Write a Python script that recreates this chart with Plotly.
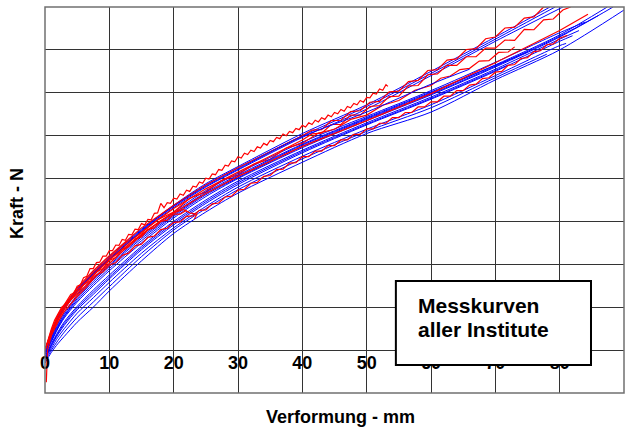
import plotly.graph_objects as go

# ---------------- data (force in grid units, deformation in mm) ----------------
blue_x = [0, 1, 2, 3, 5, 7.5, 10, 15, 20, 25, 30, 40, 50, 60, 70, 80, 90]

b1 = [0.0, 0.42, 0.78, 1.02, 1.42, 1.82, 2.18, 2.82, 3.38, 3.88, 4.28, 5.05, 5.72, 6.5, 7.3]
b1_end = (78.5, 8.0)
b2 = [0.0, 0.36, 0.7, 0.95, 1.35, 1.75, 2.1, 2.76, 3.32, 3.8, 4.2, 4.96, 5.62, 6.4, 7.2]
b2_end = (80.5, 8.0)
b3 = [-0.05, 0.3, 0.62, 0.88, 1.28, 1.68, 2.02, 2.68, 3.22, 3.72, 4.12, 4.85, 5.45, 6.05, 6.71, 7.4]
b3_end = (84.0, 7.65)
b4 = [-0.1, 0.25, 0.55, 0.8, 1.2, 1.6, 1.95, 2.6, 3.15, 3.65, 4.05, 4.78, 5.4, 6.0, 6.65, 7.35]
b4_end = (87.4, 8.0)
b5 = [-0.1, 0.2, 0.5, 0.75, 1.12, 1.5, 1.85, 2.5, 3.08, 3.58, 4.0, 4.72, 5.35, 5.95, 6.6, 7.3]
b5_end = (88.3, 8.0)
b6 = [-0.15, 0.15, 0.42, 0.66, 1.02, 1.4, 1.75, 2.42, 3.0, 3.5, 3.94, 4.66, 5.3, 5.9, 6.55, 7.25]
b6_end = (83.0, 7.45)
b7 = [-0.2, 0.1, 0.36, 0.58, 0.94, 1.3, 1.66, 2.34, 2.92, 3.42, 3.86, 4.6, 5.25, 5.85, 6.5, 7.2]
b7_end = (82.0, 7.33)
b8 = [-0.2, 0.05, 0.3, 0.5, 0.86, 1.22, 1.58, 2.26, 2.85, 3.35, 3.8, 4.52, 5.15, 5.72, 6.4, 7.1]
b8_end = (81.0, 7.15)
b9 = [-0.25, 0.0, 0.22, 0.42, 0.76, 1.12, 1.48, 2.18, 2.8, 3.3, 3.74, 4.46, 5.1, 5.65, 6.35]
b9_end = (78.0, 6.9)
b10 = [-0.3, -0.05, 0.15, 0.32, 0.65, 1.0, 1.38, 2.08, 2.72, 3.22, 3.66, 4.38, 5.05, 5.55, 6.3, 7.0, 7.93]
b10_end = None
b11 = [0.0, 0.38, 0.72, 0.98, 1.38, 1.78, 2.12, 2.78, 3.35, 3.82, 4.22, 4.98, 5.55, 6.2]
b11_end = (66.0, 6.55)
b12 = [-0.05, 0.28, 0.58, 0.84, 1.24, 1.64, 1.98, 2.64, 3.18, 3.68, 4.08, 4.8, 5.42, 6.02]
b12_end = (75.0, 6.95)
b13 = [-0.1, 0.22, 0.52, 0.78, 1.16, 1.55, 1.9, 2.55, 3.12, 3.62, 4.02, 4.75, 5.38, 5.97, 6.62, 7.32]
b13_end = (86.0, 7.8)
b14 = [-0.18, 0.12, 0.39, 0.62, 0.98, 1.35, 1.7, 2.38, 2.96, 3.46, 3.9, 4.63, 5.27, 5.87, 6.52]
b14_end = (72.0, 6.65)
b15 = [0.0, 0.4, 0.75, 1.0, 1.4, 1.8, 2.15, 2.8, 3.36, 3.85, 4.25, 5.0, 5.68, 6.45, 7.25]
b15_end = (79.3, 8.0)

# red measured curves (noisy)
r1_x = [0.0, 0.5, 1, 2, 3,
        4, 4.5, 5, 5.5, 6, 6.5, 7, 7.5, 8, 8.5, 9, 9.5, 10, 10.5, 11, 11.5, 12, 12.5, 13, 13.5,
        14, 14.5, 15, 15.5, 16, 16.5, 17, 17.5, 18, 18.5, 19, 19.5, 20, 20.5, 21, 21.5, 22, 22.5,
        23, 23.5, 24, 24.5, 25, 25.5, 26, 26.5, 27, 27.5, 28, 28.5, 29, 29.5, 30, 30.5, 31, 31.5,
        32, 32.5, 33, 33.5, 34, 34.5, 35, 35.5, 36, 36.5, 37, 37.5, 38, 38.5, 39, 39.5, 40, 40.5,
        41, 41.5, 42, 42.5, 43, 43.5, 44, 44.5, 45, 45.5, 46, 46.5, 47, 47.5, 48, 48.5, 49, 49.5,
        50, 50.5, 51, 51.5, 52, 52.5, 53, 53.3]
r1_y = [0.0, 0.25, 0.45, 0.82, 1.05,
        1.3, 1.33, 1.49, 1.52, 1.69, 1.72, 1.9, 1.9, 2.04, 2.05, 2.19, 2.19, 2.32, 2.32, 2.45, 2.44,
        2.58, 2.56, 2.7, 2.69, 2.82, 2.81, 2.95, 2.92, 3.05, 3.04, 3.19, 3.2, 3.42, 3.32, 3.44, 3.42,
        3.54, 3.52, 3.64, 3.61, 3.73, 3.7, 3.82, 3.8, 3.92, 3.89, 4.01, 3.99, 4.11, 4.09, 4.21, 4.19,
        4.31, 4.29, 4.41, 4.39, 4.51, 4.48, 4.59, 4.56, 4.66, 4.63, 4.74, 4.71, 4.82, 4.78, 4.89,
        4.86, 4.96, 4.93, 5.04, 5.0, 5.1, 5.07, 5.17, 5.14, 5.24, 5.2, 5.3, 5.26, 5.36, 5.32, 5.42,
        5.38, 5.48, 5.44, 5.54, 5.51, 5.61, 5.57, 5.68, 5.65, 5.75, 5.72, 5.82, 5.78, 5.89, 5.88,
        5.99, 5.97, 6.09, 6.06, 6.19, 6.15]

r2_x = [0, 1, 2, 3, 5, 7.5, 10, 15, 20, 25, 30, 35, 40, 41.5, 43, 44.5, 46, 47.5, 49, 50.5, 52,
        53.5, 55, 56.5, 58, 59.5, 61, 62.5, 64, 65.5, 67, 68.5, 70, 71.5, 73, 74.5, 76, 77.5, 78.3]
r2_y = [0.0, 0.45, 0.8, 1.05, 1.45, 1.85, 2.2, 2.85, 3.38, 3.85, 4.25, 4.62, 5.0, 5.13, 5.14, 5.35,
        5.36, 5.56, 5.58, 5.78, 5.8, 6.02, 6.04, 6.26, 6.29, 6.52, 6.54, 6.76, 6.79, 7.01, 7.03, 7.26,
        7.3, 7.51, 7.53, 7.74, 7.77, 8.0, 8.0]

r3_x = [0, 1, 2, 3, 5, 7.5, 10, 15, 20, 25, 30, 35, 40, 41.5, 43, 44.5, 46, 47.5, 49, 50.5, 52,
        53.5, 55, 56.5, 58, 59.5, 61, 62.5, 64, 65.5, 67, 68.5, 70, 71.5, 73, 74.5, 76, 77.5, 79,
        80.5, 81.7]
r3_y = [0.0, 0.38, 0.72, 0.98, 1.38, 1.78, 2.12, 2.76, 3.3, 3.76, 4.15, 4.52, 4.9, 5.04, 5.06, 5.26,
        5.26, 5.48, 5.48, 5.68, 5.7, 5.91, 5.92, 6.16, 6.17, 6.42, 6.44, 6.64, 6.64, 6.84, 6.84, 7.04,
        7.04, 7.23, 7.22, 7.48, 7.47, 7.7, 7.72, 7.93, 8.0]

r4_x = [0, 1, 2, 3, 5, 7.5, 10, 12.5, 15, 17.5, 20, 22.5, 25, 27.5, 30, 32.5, 35, 37.5, 40, 42.5,
        45, 47.5, 50, 52.5, 55, 57.5, 60, 61.5, 63, 64.5, 66, 67.5, 69, 70.5, 72, 73]
r4_y = [0.0, 0.42, 0.78, 1.0, 1.4, 1.8, 2.15, 2.5, 2.73, 3.04, 3.22, 3.54, 3.69, 3.96, 4.09, 4.34,
        4.45, 4.71, 4.82, 5.06, 5.15, 5.38, 5.48, 5.71, 5.82, 6.06, 6.17, 6.34, 6.39, 6.54, 6.57, 6.74,
        6.75, 6.94, 6.95, 7.07]

r5_x = [0, 1, 2, 3, 5, 7.5, 10, 15, 20, 25, 30, 40, 50, 60, 70, 80, 84.4]
r5_y = [0.0, 0.4, 0.72, 0.98, 1.38, 1.75, 2.1, 2.7, 3.2, 3.65, 4.05, 4.75, 5.35, 5.98, 6.7, 7.45, 7.83]

r6_x = [0.2, 0.25, 0.4, 1, 2, 3, 5, 6.5, 8, 9, 10, 11, 12, 13, 14, 15, 16, 17, 18, 19, 20, 21, 22,
        23, 24, 25, 26, 27, 28, 29, 30, 31, 32, 33, 34, 35, 36, 37, 38, 39, 40, 41, 42, 43, 44,
        45, 46, 47, 48, 49, 50, 51, 52, 53, 54, 55, 56, 57, 58, 59, 60, 61, 62, 63, 64, 65, 66,
        67, 68, 69, 70, 71, 72, 73, 74, 75, 76, 77, 78, 79, 80, 81.2]
r6_y = [-0.75, -0.3, 0.0, 0.35, 0.65, 0.9, 1.25, 1.48, 1.75, 1.82, 1.98, 2.04, 2.21, 2.26, 2.43,
        2.47, 2.63, 2.66, 2.81, 2.84, 2.98, 2.99, 3.12, 3.13, 3.26, 3.27, 3.41, 3.43, 3.57, 3.59,
        3.73, 3.75, 3.89, 3.91, 4.05, 4.07, 4.21, 4.22, 4.36, 4.37, 4.51, 4.51, 4.64, 4.64, 4.77,
        4.77, 4.9, 4.9, 5.03, 5.03, 5.16, 5.16, 5.29, 5.29, 5.42, 5.42, 5.54, 5.54, 5.67, 5.67,
        5.79, 5.79, 5.92, 5.92, 6.05, 6.05, 6.18, 6.2, 6.33, 6.35, 6.48, 6.5, 6.64, 6.66, 6.8, 6.82,
        6.96, 6.98, 7.12, 7.14, 7.27, 7.34]

r7_x = [0, 0.3, 0.6, 1, 1.5, 2, 2.6, 3.5, 4.4, 5.5, 7, 8.5, 10, 12, 14, 16, 18, 20, 21.5, 22.5,
        23.6, 23.2]
r7_y = [0.0, 0.15, 0.35, 0.5, 0.7, 0.85, 1.0, 1.12, 1.25, 1.38, 1.6, 1.82, 2.02, 2.3, 2.55, 2.8,
        3.02, 3.2, 3.28, 3.2, 3.17, 3.05]

r8_x = [0, 1, 2, 3, 4, 5, 6, 7, 8, 9, 10, 11, 12, 13, 14, 15, 16, 17, 18, 19, 20, 21, 22]
r8_y = [0.0, 0.35, 0.7, 0.95, 1.17, 1.3, 1.52, 1.62, 1.82, 1.9, 2.09, 2.16, 2.35, 2.41, 2.59,
        2.64, 2.81, 2.85, 3.0, 3.03, 3.17, 3.17, 3.26]

x_ticks = [0, 10, 20, 30, 40, 50, 60, 70, 80, 90]
x_title = "Verformung - mm"
y_title = "Kraft - N"
box_lines = ["Messkurven", "aller Institute"]

BLUE = "#0000ff"
RED = "#ff0000"

fig = go.Figure()


def add_blue(ys, end):
    xs = list(blue_x[:len(ys)])
    ys = list(ys)
    if end is not None:
        xs.append(end[0])
        ys.append(end[1])
    fig.add_trace(go.Scatter(x=xs, y=ys, mode="lines",
                             line=dict(color=BLUE, width=1, shape="spline", smoothing=0.8),
                             hoverinfo="skip", showlegend=False))


def add_red(xs, ys):
    fig.add_trace(go.Scatter(x=xs, y=ys, mode="lines", line=dict(color=RED, width=1.2),
                             hoverinfo="skip", showlegend=False))


for ys, end in [(b1, b1_end), (b2, b2_end), (b3, b3_end), (b4, b4_end), (b5, b5_end),
                (b6, b6_end), (b13, b13_end), (b15, b15_end)]:
    add_blue(ys, end)
for xs, ys in [(r1_x, r1_y), (r2_x, r2_y), (r3_x, r3_y), (r4_x, r4_y)]:
    add_red(xs, ys)
for ys, end in [(b7, b7_end), (b8, b8_end), (b9, b9_end), (b10, b10_end), (b11, b11_end),
                (b12, b12_end), (b14, b14_end)]:
    add_blue(ys, end)
for xs, ys in [(r5_x, r5_y), (r6_x, r6_y), (r7_x, r7_y), (r8_x, r8_y)]:
    add_red(xs, ys)

FONT = "Liberation Sans, Arial, sans-serif"
GRID = "#333333"

fig.update_layout(
    width=634, height=428,
    margin=dict(l=45, r=10, t=7, b=35),
    paper_bgcolor="white", plot_bgcolor="white",
    showlegend=False,
    xaxis=dict(range=[0, 90], tickvals=x_ticks, showgrid=True, gridcolor=GRID, gridwidth=1,
               zeroline=False, showline=False, ticks="", anchor="free", position=1 / 9,
               tickfont=dict(family=FONT, size=18, color="black", weight="bold")),
    yaxis=dict(range=[-1, 8], dtick=1, tick0=0, showgrid=True, gridcolor=GRID, gridwidth=1,
               zeroline=False, showline=False, showticklabels=False, ticks=""),
    shapes=[
        dict(type="rect", xref="paper", yref="paper", x0=0, x1=1, y0=0, y1=1,
             line=dict(color="#707070", width=1.5), layer="above"),
        dict(type="rect", xref="paper", yref="paper", x0=0.606, x1=0.943, y0=0.0725, y1=0.290,
             line=dict(color="black", width=2), fillcolor="white", layer="above"),
    ],
    annotations=[
        dict(text="<b>" + x_title + "</b>", xref="paper", yref="paper", x=0.5095, y=-0.0622,
             showarrow=False, font=dict(family=FONT, size=18, color="black"),
             xanchor="center", yanchor="middle"),
        dict(text="<b>" + y_title + "</b>", xref="paper", yref="paper", x=-0.0484, y=0.492,
             showarrow=False, textangle=-90, font=dict(family=FONT, size=18, color="black"),
             xanchor="center", yanchor="middle"),
        dict(text="<b>" + box_lines[0] + "</b>", xref="paper", yref="paper", x=0.6408, y=0.2267,
             showarrow=False, font=dict(family=FONT, size=21, color="black"),
             xanchor="left", yanchor="middle"),
        dict(text="<b>" + box_lines[1] + "</b>", xref="paper", yref="paper", x=0.6408, y=0.1645,
             showarrow=False, font=dict(family=FONT, size=21, color="black"),
             xanchor="left", yanchor="middle"),
    ],
)

fig.write_html("out.html")
